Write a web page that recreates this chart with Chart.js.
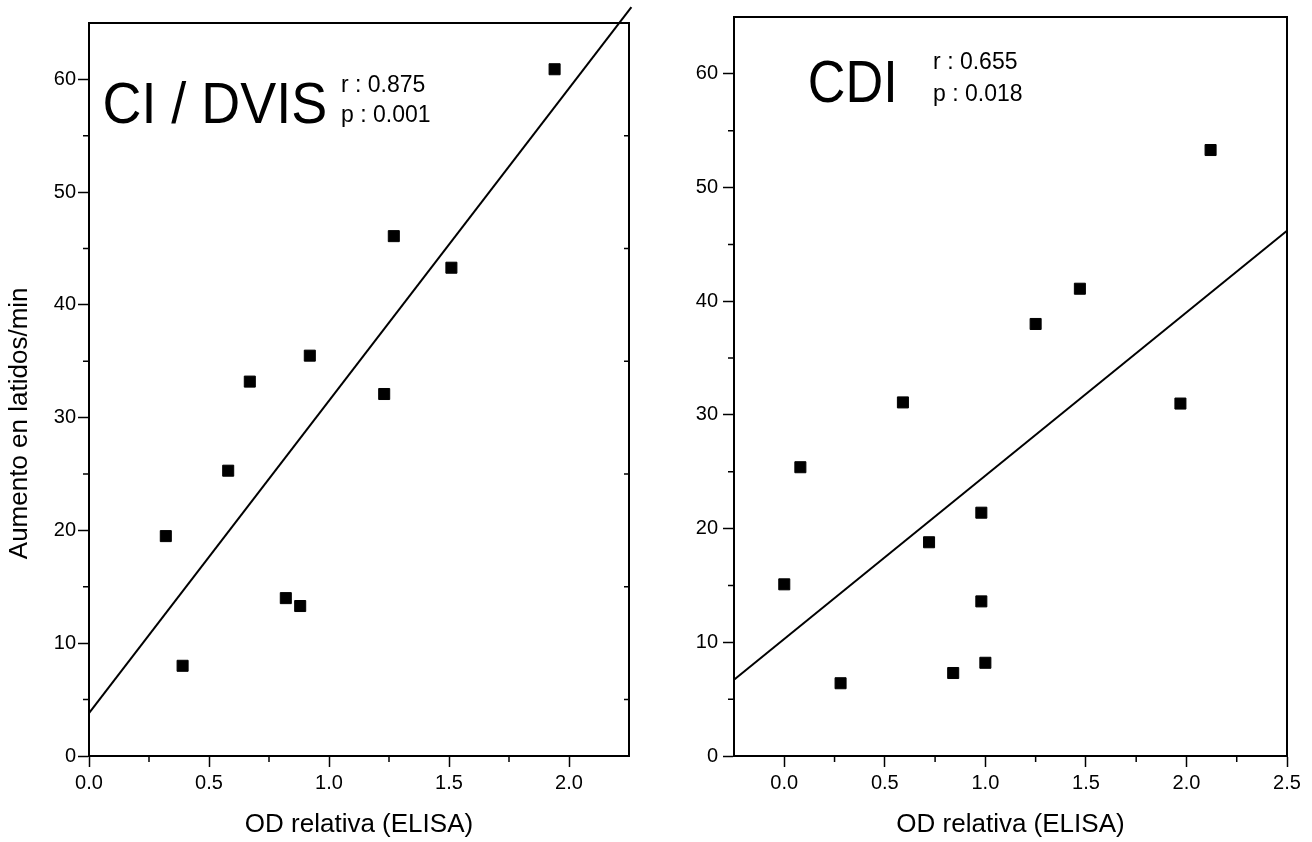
<!DOCTYPE html>
<html>
<head>
<meta charset="utf-8">
<title>Aumento en latidos/min vs OD relativa (ELISA)</title>
<script src="https://cdn.jsdelivr.net/npm/chart.js@4.4.1/dist/chart.umd.min.js"></script>
<style>
  html, body { margin: 0; padding: 0; background: #fff; }
  #wrap { position: relative; width: 1312px; height: 842px; }
  .panel { position: absolute; top: 0; height: 842px; }
  #leftPanel { left: 0; width: 660px; }
  #rightPanel { left: 660px; width: 652px; }
</style>
</head>
<body>
<div id="wrap">
  <div class="panel" id="leftPanel"><canvas id="chartLeft"></canvas></div>
  <div class="panel" id="rightPanel"><canvas id="chartRight"></canvas></div>
</div>
<script>
// CI / DVIS panel
const leftX = [0.32, 0.39, 0.58, 0.67, 0.82, 0.88, 0.92, 1.23, 1.27, 1.51, 1.94];
const leftY = [19.5, 8.0, 25.3, 33.2, 14.0, 13.3, 35.5, 32.1, 46.1, 43.3, 60.9];
const leftFitX = [0, 2.26];
const leftFitY = [3.8, 66.4];

// CDI panel
const rightX = [0.00, 0.08, 0.28, 0.59, 0.72, 0.84, 0.98, 0.98, 1.00, 1.25, 1.47, 1.97, 2.12];
const rightY = [15.1, 25.4, 6.4, 31.1, 18.8, 7.3, 21.4, 13.6, 8.2, 38.0, 41.1, 31.0, 53.3];
const rightFitX = [-0.25, 2.5];
const rightFitY = [6.7, 46.2];

// ticks
const yTicks = [0, 10, 20, 30, 40, 50, 60];
const yMinor = [5, 15, 25, 35, 45, 55];
const xTicksLeft = [0, 0.5, 1.0, 1.5, 2.0];
const xMinorLeft = [0.25, 0.75, 1.25, 1.75];
const xTicksRight = [0, 0.5, 1.0, 1.5, 2.0, 2.5];
const xMinorRight = [0.25, 0.75, 1.25, 1.75, 2.25];

const FONT = '"Liberation Sans", Arial, Helvetica, sans-serif';
Chart.defaults.font.family = FONT;
Chart.defaults.color = '#000';

const toPoints = (xs, ys) => xs.map((x, i) => ({ x: x, y: ys[i] }));

// frame, minor ticks and text labels
const panelDecor = {
    id: 'panelDecor',
    afterDatasetsDraw(chart, args, opts) {
        const { ctx, chartArea: a, scales: { x, y } } = chart;
        ctx.save();
        ctx.strokeStyle = '#000';
        ctx.lineWidth = 2;
        ctx.beginPath();
        ctx.moveTo(a.left - 1, a.top);
        ctx.lineTo(a.right, a.top);
        ctx.lineTo(a.right, a.bottom + 1);
        ctx.stroke();

        ctx.lineWidth = 1.5;
        ctx.beginPath();
        opts.yMinor.forEach(v => {
            const py = y.getPixelForValue(v);
            ctx.moveTo(a.left - 6, py);
            ctx.lineTo(a.left, py);
        });
        opts.xMinor.forEach(v => {
            const px = x.getPixelForValue(v);
            ctx.moveTo(px, a.bottom);
            ctx.lineTo(px, a.bottom + 6);
        });
        (opts.rightTicks || []).forEach(v => {
            const py = y.getPixelForValue(v);
            ctx.moveTo(a.right - 5, py);
            ctx.lineTo(a.right, py);
        });
        ctx.stroke();

        ctx.fillStyle = '#000';
        ctx.textBaseline = 'alphabetic';
        ctx.textAlign = 'left';
        opts.notes.forEach(n => {
            ctx.save();
            ctx.font = n.size + 'px ' + FONT;
            ctx.translate(x.getPixelForValue(n.x), y.getPixelForValue(n.y));
            ctx.scale(n.sx || 1, 1);
            ctx.fillText(n.text, 0, 0);
            ctx.restore();
        });

        if (opts.yTitle) {
            ctx.font = opts.yTitle.size + 'px ' + FONT;
            ctx.textAlign = 'center';
            ctx.textBaseline = 'middle';
            ctx.translate(opts.yTitle.left, y.getPixelForValue(opts.yTitle.y));
            ctx.rotate(-Math.PI / 2);
            ctx.fillText(opts.yTitle.text, 0, 0);
        }
        ctx.restore();
    }
};

function buildScales(cfg) {
    return {
        x: {
            type: 'linear',
            min: cfg.xMin,
            max: cfg.xMax,
            afterBuildTicks: s => { s.ticks = cfg.xTicks.map(v => ({ value: v })); },
            afterFit: s => { s.height = 86; },
            ticks: { autoSkip: false, maxRotation: 0, padding: 4, font: { size: 20 }, color: '#000', callback: v => v.toFixed(1) },
            grid: { drawOnChartArea: false, drawTicks: true, tickLength: 11, tickWidth: 1.5, tickColor: '#000' },
            border: { display: true, color: '#000', width: 2 },
            title: { display: true, text: 'OD relativa (ELISA)', font: { size: 26 }, color: '#000', padding: { top: 0, bottom: 2 } }
        },
        y: {
            type: 'linear',
            min: 0,
            max: 65,
            afterBuildTicks: s => { s.ticks = yTicks.map(v => ({ value: v })); },
            afterFit: s => { s.width = cfg.yAxisWidth; },
            ticks: { autoSkip: false, padding: cfg.yLabelPad, font: { size: 20 }, color: '#000' },
            grid: { drawOnChartArea: false, drawTicks: true, tickLength: 11, tickWidth: 1.5, tickColor: '#000' },
            border: { display: true, color: '#000', width: 2 }
        }
    };
}

function makePanel(canvasId, cfg) {
    return new Chart(document.getElementById(canvasId), {
        type: 'scatter',
        data: {
            datasets: [
                {
                    data: toPoints(cfg.xs, cfg.ys),
                    pointStyle: 'rect',
                    pointRadius: 7.8,
                    backgroundColor: '#000',
                    borderColor: '#000',
                    borderWidth: 1
                },
                {
                    data: toPoints(cfg.fitX, cfg.fitY),
                    showLine: true,
                    pointRadius: 0,
                    borderColor: '#000',
                    borderWidth: 2,
                    clip: false
                }
            ]
        },
        options: {
            responsive: true,
            maintainAspectRatio: false,
            animation: false,
            layout: { padding: cfg.padding },
            scales: buildScales(cfg),
            plugins: {
                legend: { display: false },
                tooltip: { enabled: false },
                panelDecor: cfg.decor
            }
        },
        plugins: [panelDecor]
    });
}

makePanel('chartLeft', {
    xs: leftX, ys: leftY, fitX: leftFitX, fitY: leftFitY,
    xMin: 0, xMax: 2.25, xTicks: xTicksLeft,
    yAxisWidth: 89, yLabelPad: 2,
    padding: { left: 0, right: 31, top: 23, bottom: 0 },
    decor: {
        yMinor: yMinor,
        xMinor: xMinorLeft,
        rightTicks: yMinor,
        notes: [
            { text: 'CI / DVIS', x: 0.056, y: 56.1, size: 58, sx: 0.93 },
            { text: 'r : 0.875', x: 1.05, y: 58.9, size: 23 },
            { text: 'p : 0.001', x: 1.05, y: 56.2, size: 23 }
        ],
        yTitle: { text: 'Aumento en latidos/min', left: 20, y: 29.5, size: 26 }
    }
});

makePanel('chartRight', {
    xs: rightX, ys: rightY, fitX: rightFitX, fitY: rightFitY,
    xMin: -0.25, xMax: 2.5, xTicks: xTicksRight,
    yAxisWidth: 74, yLabelPad: 5,
    padding: { left: 0, right: 25, top: 14, bottom: 0 },
    decor: {
        yMinor: yMinor,
        xMinor: xMinorRight,
        notes: [
            { text: 'CDI', x: 0.117, y: 57.5, size: 60, sx: 0.87 },
            { text: 'r : 0.655', x: 0.74, y: 60.4, size: 23 },
            { text: 'p : 0.018', x: 0.74, y: 57.6, size: 23 }
        ]
    }
});
</script>
</body>
</html>
